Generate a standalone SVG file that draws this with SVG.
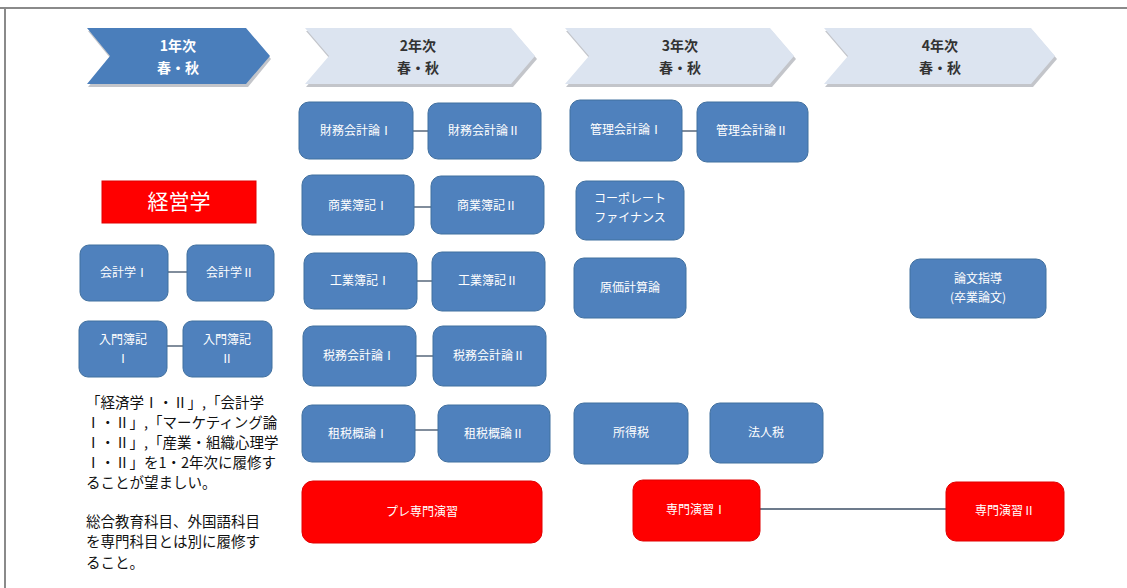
<svg xmlns="http://www.w3.org/2000/svg" width="1127" height="588" viewBox="0 0 1127 588">
<defs>
<style>
.bg{fill:#ffffff}
.frame{stroke:#8a8a8a;stroke-width:2;fill:none}
.chevD{fill:#4a7ebb}
.chevL{fill:#dce4f0}
.shadow{fill:#a9adb3;opacity:0.7}
.ct{font-family:"Noto Sans CJK JP","Liberation Sans",sans-serif;font-size:14px;font-weight:bold;text-anchor:middle}
.ctw{fill:#ffffff}
.ctd{fill:#333333}
.box{fill:#4f81bd;stroke:#41709f;stroke-width:1}
.red{fill:#ff0000;stroke:#e00000;stroke-width:1}
.bt{font-family:"Noto Sans CJK JP","Liberation Sans",sans-serif;font-size:12px;fill:#ffffff;text-anchor:middle}
.big{font-family:"Noto Sans CJK JP","Liberation Sans",sans-serif;font-size:21px;fill:#ffffff;text-anchor:middle}
.note{font-family:"Noto Sans CJK JP","Liberation Sans",sans-serif;font-size:14.5px;fill:#111111}
.con{stroke:#3d4f66;stroke-width:1.3;fill:none}
</style>
</defs>
<rect class="bg" x="0" y="0" width="1127" height="588"/>
<g id="frame">
<line class="frame" x1="0" y1="8" x2="1127" y2="8"/>
<line class="frame" x1="5" y1="8" x2="5" y2="588"/>
</g>

<g id="year1">
<polygon class="shadow" points="88,31 248,31 271,59 248,87 88,87 111,59"/>
<polygon class="chevD" points="87,28 246,28 270,56 246,84 87,84 110,56"/>
<text class="ct ctw" x="178" y="51">1年次</text>
<text class="ct ctw" x="178" y="73">春・秋</text>
</g>
<g id="year2">
<polygon class="shadow" points="306,31 513,31 537,59 513,87 306,87 330,59"/>
<polygon class="chevL" points="305,28 511,28 535,56 511,84 305,84 329,56"/>
<text class="ct ctd" x="418" y="51">2年次</text>
<text class="ct ctd" x="418" y="73">春・秋</text>
</g>
<g id="year3">
<polygon class="shadow" points="566,31 772,31 796,59 772,87 566,87 590,59"/>
<polygon class="chevL" points="565,28 770,28 794,56 770,84 565,84 589,56"/>
<text class="ct ctd" x="680" y="51">3年次</text>
<text class="ct ctd" x="680" y="73">春・秋</text>
</g>
<g id="year4">
<polygon class="shadow" points="825,31 1033,31 1057,59 1033,87 825,87 849,59"/>
<polygon class="chevL" points="824,28 1031,28 1055,56 1031,84 824,84 848,56"/>
<text class="ct ctd" x="940" y="51">4年次</text>
<text class="ct ctd" x="940" y="73">春・秋</text>
</g>

<g id="connectors">
<line class="con" x1="168" y1="272" x2="187" y2="272"/>
<line class="con" x1="167" y1="346" x2="183" y2="346"/>
<line class="con" x1="413" y1="131" x2="428" y2="131"/>
<line class="con" x1="414" y1="207" x2="431" y2="207"/>
<line class="con" x1="417" y1="281" x2="432" y2="281"/>
<line class="con" x1="416" y1="356" x2="433" y2="356"/>
<line class="con" x1="415" y1="430" x2="438" y2="430"/>
<line class="con" x1="682" y1="131" x2="697" y2="131"/>
<line class="con" x1="760" y1="509" x2="946" y2="509"/>
</g>

<g id="keiei">
<rect class="red" x="102" y="181" width="154" height="42"/>
<text class="big" x="179" y="209">経営学</text>
</g>

<g id="kaikei1"><rect class="box" x="80" y="245" width="88" height="56" rx="9"/><text class="bt" x="124" y="277">会計学Ⅰ</text></g>
<g id="kaikei2"><rect class="box" x="187" y="245" width="87" height="56" rx="9"/><text class="bt" x="230" y="277">会計学Ⅱ</text></g>
<g id="nyumon1"><rect class="box" x="79" y="321" width="88" height="56" rx="9"/><text class="bt" x="123" y="344">入門簿記</text><text class="bt" x="123" y="363">Ⅰ</text></g>
<g id="nyumon2"><rect class="box" x="183" y="321" width="89" height="56" rx="9"/><text class="bt" x="227" y="344">入門簿記</text><text class="bt" x="227" y="363">Ⅱ</text></g>

<g id="zaimu1"><rect class="box" x="299" y="102" width="114" height="57" rx="10"/><text class="bt" x="356" y="135">財務会計論Ⅰ</text></g>
<g id="zaimu2"><rect class="box" x="428" y="103" width="113" height="56" rx="10"/><text class="bt" x="484" y="135">財務会計論Ⅱ</text></g>
<g id="shogyo1"><rect class="box" x="302" y="175" width="112" height="60" rx="10"/><text class="bt" x="358" y="210">商業簿記Ⅰ</text></g>
<g id="shogyo2"><rect class="box" x="431" y="176" width="113" height="58" rx="10"/><text class="bt" x="487" y="210">商業簿記Ⅱ</text></g>
<g id="kogyo1"><rect class="box" x="304" y="253" width="113" height="56" rx="10"/><text class="bt" x="360" y="285">工業簿記Ⅰ</text></g>
<g id="kogyo2"><rect class="box" x="432" y="252" width="113" height="59" rx="10"/><text class="bt" x="488" y="285">工業簿記Ⅱ</text></g>
<g id="zeimu1"><rect class="box" x="303" y="326" width="113" height="60" rx="10"/><text class="bt" x="359" y="360">税務会計論Ⅰ</text></g>
<g id="zeimu2"><rect class="box" x="433" y="326" width="113" height="60" rx="10"/><text class="bt" x="489" y="360">税務会計論Ⅱ</text></g>
<g id="sozei1"><rect class="box" x="302" y="405" width="113" height="57" rx="10"/><text class="bt" x="358" y="438">租税概論Ⅰ</text></g>
<g id="sozei2"><rect class="box" x="438" y="405" width="112" height="57" rx="10"/><text class="bt" x="494" y="438">租税概論Ⅱ</text></g>
<g id="pre"><rect class="red" x="302" y="481" width="240" height="62" rx="11"/><text class="bt" x="422" y="516">プレ専門演習</text></g>

<g id="kanri1"><rect class="box" x="570" y="100" width="112" height="61" rx="10"/><text class="bt" x="626" y="134">管理会計論Ⅰ</text></g>
<g id="kanri2"><rect class="box" x="697" y="102" width="111" height="60" rx="10"/><text class="bt" x="752" y="135">管理会計論Ⅱ</text></g>
<g id="corp"><rect class="box" x="576" y="181" width="108" height="59" rx="10"/><text class="bt" x="630" y="203">コーポレート</text><text class="bt" x="630" y="222">ファイナンス</text></g>
<g id="genka"><rect class="box" x="574" y="258" width="112" height="60" rx="10"/><text class="bt" x="630" y="292">原価計算論</text></g>
<g id="shotoku"><rect class="box" x="574" y="403" width="114" height="61" rx="10"/><text class="bt" x="631" y="437">所得税</text></g>
<g id="hojin"><rect class="box" x="710" y="403" width="113" height="60" rx="10"/><text class="bt" x="766" y="437">法人税</text></g>
<g id="senmon1"><rect class="red" x="633" y="480" width="127" height="61" rx="10"/><text class="bt" x="696" y="514">専門演習Ⅰ</text></g>

<g id="ronbun"><rect class="box" x="910" y="259" width="136" height="59" rx="10"/><text class="bt" x="978" y="283">論文指導</text><text class="bt" x="978" y="302">(卒業論文)</text></g>
<g id="senmon2"><rect class="red" x="946" y="482" width="118" height="59" rx="10"/><text class="bt" x="1005" y="515">専門演習Ⅱ</text></g>

<g id="note">
<text class="note" x="86" y="408">「経済学Ⅰ・Ⅱ」,「会計学</text>
<text class="note" x="86" y="428">Ⅰ・Ⅱ」,「マーケティング論</text>
<text class="note" x="86" y="448">Ⅰ・Ⅱ」,「産業・組織心理学</text>
<text class="note" x="86" y="468">Ⅰ・Ⅱ」を1・2年次に履修す</text>
<text class="note" x="86" y="488">ることが望ましい。</text>
<text class="note" x="86" y="527">総合教育科目、外国語科目</text>
<text class="note" x="86" y="547">を専門科目とは別に履修す</text>
<text class="note" x="86" y="568">ること。</text>
</g>
</svg>
